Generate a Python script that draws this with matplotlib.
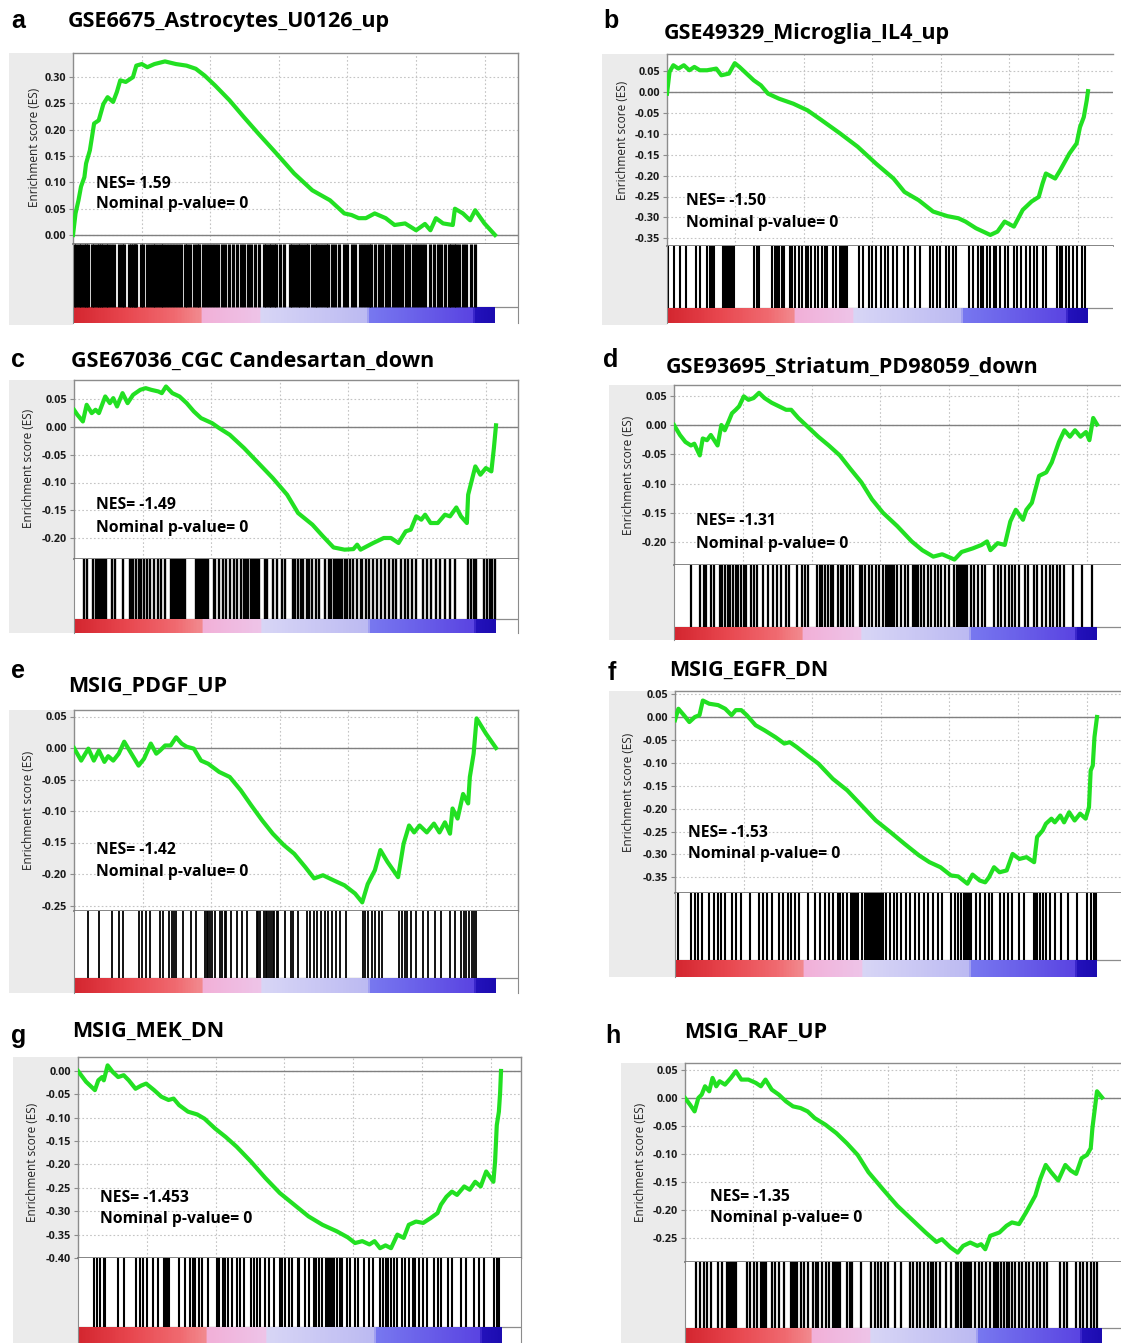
import matplotlib
matplotlib.use("Agg")
import matplotlib.pyplot as plt
from matplotlib.colors import LinearSegmentedColormap
from matplotlib.patches import Rectangle
import numpy as np

plt.rcParams['font.family'] = ['Open Sans', 'DejaVu Sans']
plt.rcParams['axes.unicode_minus'] = False

W, H = 1121, 1343
N_GENES = 12300

# ---------------- data ----------------
letters = ['a', 'b', 'c', 'd', 'e', 'f', 'g', 'h']
titles = ['GSE6675_Astrocytes_U0126_up', 'GSE49329_Microglia_IL4_up',
          'GSE67036_CGC Candesartan_down', 'GSE93695_Striatum_PD98059_down',
          'MSIG_PDGF_UP', 'MSIG_EGFR_DN', 'MSIG_MEK_DN', 'MSIG_RAF_UP']
nes_values = ['1.59', '-1.50', '-1.49', '-1.31', '-1.42', '-1.53', '-1.453', '-1.35']
p_values = ['0', '0', '0', '0', '0', '0', '0', '0']

yticks_a = [0.00, 0.05, 0.10, 0.15, 0.20, 0.25, 0.30]
yticks_b = [0.05, 0.00, -0.05, -0.10, -0.15, -0.20, -0.25, -0.30, -0.35]
yticks_c = [0.05, 0.00, -0.05, -0.10, -0.15, -0.20]
yticks_d = [0.05, 0.00, -0.05, -0.10, -0.15, -0.20]
yticks_e = [0.05, 0.00, -0.05, -0.10, -0.15, -0.20, -0.25]
yticks_f = [0.05, 0.00, -0.05, -0.10, -0.15, -0.20, -0.25, -0.30, -0.35]
yticks_g = [0.00, -0.05, -0.10, -0.15, -0.20, -0.25, -0.30, -0.35, -0.40]
yticks_h = [0.05, 0.00, -0.05, -0.10, -0.15, -0.20, -0.25]

# running enrichment score: (position in ranked list, %), ES
es_a = [(0, 0.0), (0.6, 0.041), (1.3, 0.066), (1.9, 0.092), (2.7, 0.110), (3.1, 0.136),
        (4.0, 0.161), (5.0, 0.212), (6.1, 0.218), (7.2, 0.249), (8.2, 0.262), (9.5, 0.253),
        (10.4, 0.272), (11.2, 0.294), (12.5, 0.291), (14.2, 0.300), (15.0, 0.322),
        (16.3, 0.325), (17.6, 0.319), (19.3, 0.325), (21.8, 0.330), (24.4, 0.325),
        (26.9, 0.322), (29.1, 0.316), (31.2, 0.303), (33.7, 0.284), (37.1, 0.256),
        (40.5, 0.224), (43.9, 0.193), (48.2, 0.155), (52.4, 0.117), (56.7, 0.085),
        (60.9, 0.066), (64.3, 0.041), (66.0, 0.038), (67.7, 0.032), (69.4, 0.032),
        (71.5, 0.041), (74.1, 0.032), (76.2, 0.019), (78.7, 0.022), (81.3, 0.009),
        (83.4, 0.021), (84.7, 0.009), (86.0, 0.032), (87.7, 0.022), (90.0, 0.019),
        (90.5, 0.050), (92.4, 0.041), (94.1, 0.028), (95.3, 0.047), (97.5, 0.022), (100, 0.0)]
es_b = [(0, -0.004), (0.6, 0.048), (1.5, 0.064), (2.7, 0.056), (4.0, 0.064), (5.3, 0.052),
        (6.5, 0.060), (7.8, 0.052), (9.5, 0.052), (11.7, 0.056), (12.9, 0.040), (14.7, 0.044),
        (16.1, 0.069), (17.2, 0.060), (18.9, 0.044), (20.6, 0.028), (22.3, 0.016),
        (24.0, -0.004), (26.6, -0.016), (30.0, -0.028), (33.4, -0.044), (36.8, -0.068),
        (41.1, -0.099), (45.3, -0.131), (49.6, -0.171), (53.8, -0.207), (56.4, -0.239),
        (59.8, -0.259), (63.2, -0.286), (66.6, -0.297), (69.2, -0.302), (70.9, -0.310),
        (73.4, -0.326), (76.8, -0.342), (78.5, -0.334), (80.2, -0.310), (82.4, -0.322),
        (84.5, -0.282), (86.6, -0.262), (88.3, -0.251), (89.2, -0.219), (90.0, -0.195),
        (92.2, -0.207), (93.4, -0.187), (95.6, -0.147), (97.3, -0.123), (98.1, -0.084),
        (99.0, -0.060), (99.7, -0.020), (100, 0.002)]
es_c = [(0, 0.031), (0.8, 0.022), (2.1, 0.010), (3.0, 0.040), (4.2, 0.025), (5.1, 0.031),
        (5.9, 0.025), (7.4, 0.055), (8.5, 0.043), (9.3, 0.052), (10.2, 0.037), (11.5, 0.061),
        (12.7, 0.043), (14.0, 0.058), (15.7, 0.067), (17.0, 0.070), (18.3, 0.067),
        (20.0, 0.064), (20.8, 0.061), (21.8, 0.073), (23.3, 0.061), (25.0, 0.055),
        (26.7, 0.043), (28.4, 0.028), (30.1, 0.016), (32.7, 0.007), (34.4, -0.002),
        (36.9, -0.014), (40.3, -0.038), (43.7, -0.065), (47.1, -0.092), (50.5, -0.122),
        (53.1, -0.155), (56.5, -0.176), (59.0, -0.197), (61.5, -0.217), (64.1, -0.221),
        (66.2, -0.220), (67.1, -0.212), (67.9, -0.221), (70.9, -0.209), (73.4, -0.200),
        (75.1, -0.200), (76.9, -0.209), (78.6, -0.188), (79.8, -0.185), (81.1, -0.161),
        (82.3, -0.167), (83.2, -0.158), (84.5, -0.173), (86.2, -0.173), (87.9, -0.158),
        (89.1, -0.161), (90.6, -0.145), (91.7, -0.161), (93.1, -0.173), (93.4, -0.122),
        (95.1, -0.071), (96.3, -0.086), (97.6, -0.074), (98.9, -0.080), (99.5, -0.038),
        (100, 0.003)]
es_d = [(0, 0.0), (1.4, -0.017), (2.7, -0.029), (4.0, -0.035), (4.8, -0.032), (6.1, -0.052),
        (6.8, -0.023), (7.8, -0.026), (8.7, -0.017), (9.5, -0.026), (10.3, -0.035),
        (11.2, 0.0), (12.0, -0.009), (12.9, 0.006), (13.7, 0.020), (14.6, 0.026),
        (15.4, 0.032), (16.5, 0.049), (17.6, 0.043), (18.8, 0.046), (20.1, 0.055),
        (21.4, 0.046), (23.1, 0.038), (24.8, 0.032), (26.5, 0.026), (27.7, 0.026),
        (29.4, 0.012), (31.6, -0.003), (34.1, -0.020), (36.6, -0.035), (39.2, -0.052),
        (41.7, -0.075), (44.3, -0.098), (46.8, -0.127), (49.4, -0.150), (52.8, -0.173),
        (56.2, -0.199), (58.7, -0.214), (61.3, -0.225), (63.4, -0.221), (64.7, -0.225),
        (66.3, -0.230), (68.0, -0.217), (70.6, -0.211), (72.7, -0.205), (74.0, -0.199),
        (74.8, -0.214), (76.5, -0.202), (78.2, -0.205), (79.5, -0.165), (80.8, -0.145),
        (82.5, -0.162), (83.3, -0.145), (84.6, -0.133), (86.3, -0.087), (88.0, -0.081),
        (89.3, -0.064), (91.0, -0.029), (92.3, -0.009), (93.6, -0.020), (94.8, -0.009),
        (96.1, -0.020), (97.4, -0.012), (98.2, -0.026), (99.1, 0.012), (100, 0.001)]
es_e = [(0, 0.0), (1.7, -0.020), (3.4, -0.001), (4.7, -0.020), (5.9, -0.004), (7.2, -0.022),
        (8.1, -0.013), (9.3, -0.020), (10.6, -0.009), (11.9, 0.010), (13.6, -0.009),
        (15.3, -0.028), (16.6, -0.017), (18.2, 0.007), (19.5, -0.009), (20.4, -0.004),
        (21.6, 0.004), (22.9, 0.004), (24.2, 0.017), (25.5, 0.007), (26.7, 0.002),
        (28.4, -0.001), (30.1, -0.020), (31.8, -0.025), (34.4, -0.038), (36.9, -0.046),
        (39.5, -0.067), (42.0, -0.091), (44.6, -0.115), (47.1, -0.136), (49.7, -0.154),
        (52.2, -0.168), (54.8, -0.189), (56.9, -0.207), (59.0, -0.202), (61.5, -0.210),
        (64.1, -0.218), (66.6, -0.231), (68.3, -0.245), (69.6, -0.216), (71.3, -0.194),
        (72.6, -0.162), (74.3, -0.181), (76.8, -0.205), (78.1, -0.152), (79.4, -0.123),
        (80.6, -0.134), (81.9, -0.123), (83.6, -0.134), (85.3, -0.120), (86.6, -0.134),
        (87.9, -0.118), (89.1, -0.136), (89.7, -0.096), (90.9, -0.112), (92.2, -0.073),
        (93.4, -0.088), (93.8, -0.046), (94.7, -0.009), (95.4, 0.047), (97.6, 0.023), (100, 0.0)]
es_f = [(0, -0.007), (0.8, 0.018), (2.1, 0.004), (3.4, -0.011), (4.7, 0.0), (5.8, 0.004),
        (6.6, 0.036), (8.1, 0.029), (10.2, 0.026), (11.9, 0.018), (13.4, 0.004), (14.4, 0.015),
        (15.7, 0.015), (17.0, 0.004), (19.1, -0.018), (21.2, -0.029), (23.8, -0.044),
        (25.9, -0.058), (27.2, -0.055), (28.9, -0.066), (31.4, -0.084), (34.0, -0.102),
        (37.4, -0.135), (40.8, -0.160), (44.2, -0.193), (47.6, -0.226), (51.0, -0.251),
        (54.4, -0.277), (57.8, -0.302), (60.3, -0.317), (62.9, -0.328), (65.4, -0.346),
        (67.1, -0.348), (69.3, -0.364), (70.5, -0.344), (72.2, -0.357), (73.5, -0.361),
        (74.4, -0.350), (75.6, -0.328), (76.9, -0.339), (78.6, -0.335), (80.0, -0.299),
        (81.6, -0.310), (83.3, -0.306), (85.1, -0.317), (85.8, -0.262), (87.1, -0.248),
        (87.9, -0.233), (89.2, -0.222), (90.0, -0.230), (91.3, -0.215), (92.2, -0.230),
        (93.4, -0.208), (94.7, -0.226), (96.0, -0.211), (97.3, -0.222), (98.1, -0.197),
        (98.5, -0.117), (99.0, -0.106), (99.4, -0.044), (100, 0.0)]
es_g = [(0, 0.0), (1.9, -0.023), (4.0, -0.041), (4.8, -0.020), (5.7, -0.013), (6.1, -0.020),
        (7.0, 0.012), (8.2, -0.002), (9.5, -0.013), (10.8, -0.009), (12.0, -0.020),
        (13.6, -0.038), (15.0, -0.031), (16.1, -0.027), (18.0, -0.041), (19.7, -0.055),
        (21.4, -0.062), (22.6, -0.059), (23.9, -0.073), (26.0, -0.087), (28.2, -0.093),
        (29.9, -0.102), (32.4, -0.123), (34.9, -0.141), (37.5, -0.162), (40.9, -0.194),
        (44.3, -0.229), (47.7, -0.261), (51.1, -0.286), (54.5, -0.311), (57.8, -0.329),
        (61.2, -0.343), (63.8, -0.356), (65.5, -0.368), (67.2, -0.364), (68.9, -0.371),
        (70.1, -0.364), (71.4, -0.379), (72.7, -0.373), (74.0, -0.379), (75.5, -0.350),
        (77.0, -0.357), (78.2, -0.329), (79.9, -0.322), (81.6, -0.325), (83.3, -0.315),
        (85.0, -0.304), (85.8, -0.286), (87.1, -0.269), (88.4, -0.258), (89.6, -0.265),
        (91.3, -0.247), (92.6, -0.254), (93.9, -0.237), (95.2, -0.247), (96.5, -0.215),
        (98.2, -0.237), (98.6, -0.194), (99.0, -0.116), (99.5, -0.087), (99.8, -0.045),
        (100, 0.0)]
es_h = [(0, 0.0), (1.2, -0.012), (2.3, -0.024), (3.2, 0.0), (4.0, 0.006), (4.8, 0.021),
        (5.8, 0.012), (6.6, 0.036), (7.5, 0.021), (8.3, 0.030), (9.6, 0.024), (11.0, 0.036),
        (12.2, 0.048), (13.5, 0.033), (15.2, 0.033), (17.0, 0.027), (18.2, 0.021),
        (19.3, 0.033), (20.8, 0.015), (22.5, 0.006), (24.2, -0.006), (25.9, -0.015),
        (27.7, -0.018), (29.4, -0.024), (31.1, -0.036), (33.7, -0.048), (36.3, -0.063),
        (38.8, -0.081), (41.4, -0.102), (44.0, -0.133), (47.4, -0.163), (50.9, -0.193),
        (54.3, -0.217), (57.7, -0.241), (60.3, -0.258), (61.6, -0.253), (63.7, -0.268),
        (65.4, -0.277), (66.7, -0.265), (68.4, -0.259), (70.1, -0.265), (71.0, -0.262),
        (72.0, -0.271), (73.2, -0.247), (75.4, -0.241), (77.1, -0.229), (78.4, -0.223),
        (80.1, -0.226), (81.8, -0.205), (84.0, -0.175), (85.2, -0.145), (86.5, -0.120),
        (87.8, -0.133), (89.5, -0.148), (91.2, -0.120), (92.5, -0.130), (93.8, -0.136),
        (95.1, -0.108), (96.4, -0.102), (97.3, -0.090), (97.7, -0.054), (98.1, -0.030),
        (98.8, 0.012), (100, 0.001)]

# gene-set hit positions (% of ranked list)
hits_a = [0.2, 0.8, 1.4, 2.0, 2.5, 3.0, 3.5, 4.4, 5.0, 5.7, 6.2, 6.7, 7.2, 7.8, 8.2, 9.1, 9.8,
          10.8, 11.5, 12.1, 13.3, 13.8, 14.2, 14.6, 15.0, 16.1, 16.7, 17.6, 18.3, 18.9, 19.5,
          20.1, 20.8, 21.4, 22.0, 22.7, 23.5, 24.1, 24.8, 25.7, 26.5, 27.1, 27.8, 28.6, 29.3,
          29.9, 30.8, 31.6, 32.3, 32.9, 33.7, 34.4, 35.3, 36.1, 37.0, 37.8, 38.8, 39.7, 40.5,
          41.4, 42.2, 43.2, 44.1, 45.2, 45.8, 46.5, 47.0, 47.6, 48.2, 49.0, 49.9, 51.4, 52.0,
          52.6, 53.3, 53.9, 54.5, 55.1, 55.8, 56.7, 57.3, 57.9, 58.5, 59.2, 59.9, 60.5, 61.3,
          62.2, 63.0, 64.1, 65.0, 66.0, 66.9, 68.1, 68.7, 69.4, 70.1, 70.7, 71.5, 72.4, 73.2,
          74.1, 74.9, 75.8, 76.6, 77.2, 77.9, 78.8, 79.6, 80.5, 81.3, 82.0, 82.8, 83.4, 84.7,
          85.6, 86.4, 87.3, 88.1, 89.0, 89.6, 90.2, 90.8, 91.5, 92.4, 93.2, 94.2, 95.3]
hits_b = [0.2, 1.7, 3.2, 4.4, 7.0, 7.8, 9.5, 10.2, 10.8, 11.2, 13.4, 13.8, 14.2, 14.7, 15.1,
          15.5, 15.9, 20.6, 21.3, 21.9, 24.9, 25.7, 26.1, 26.7, 27.4, 27.9, 29.1, 29.8, 30.4,
          31.3, 32.1, 33.0, 33.4, 34.2, 35.1, 35.9, 36.8, 37.6, 38.1, 39.4, 40.2, 41.1, 41.5,
          41.9, 42.3, 42.8, 45.7, 46.6, 47.9, 48.7, 49.6, 50.9, 51.7, 52.6, 53.8, 54.7, 56.4,
          57.2, 58.9, 60.2, 62.4, 63.2, 64.1, 64.9, 66.2, 67.0, 67.9, 68.7, 71.7, 72.6, 73.9,
          74.7, 75.1, 76.0, 76.8, 77.7, 78.1, 79.0, 80.2, 81.1, 82.4, 83.2, 84.1, 85.3, 86.2,
          87.1, 87.9, 89.2, 90.0, 92.6, 93.4, 93.9, 94.7, 95.6, 96.4, 97.3, 98.6, 99.4]
hits_c = [2.3, 3.1, 4.5, 5.3, 5.8, 6.2, 6.6, 7.0, 7.5, 8.9, 9.8, 11.5, 13.2, 13.6, 14.0, 14.7,
          15.3, 15.9, 16.6, 17.4, 18.1, 18.9, 19.9, 20.6, 21.6, 22.9, 23.3, 23.8, 24.2, 24.6,
          25.0, 25.5, 25.9, 26.3, 28.9, 29.3, 29.7, 30.1, 30.6, 31.0, 31.4, 31.8, 33.1, 33.5,
          34.4, 35.2, 36.1, 36.9, 37.8, 38.6, 39.5, 40.3, 40.8, 41.3, 41.9, 42.4, 42.9, 43.4,
          43.9, 45.2, 45.8, 47.1, 48.0, 49.2, 50.1, 51.8, 52.4, 53.1, 53.7, 54.3, 55.2, 55.6,
          56.5, 57.3, 58.1, 59.4, 60.5, 61.0, 61.5, 62.1, 62.6, 63.1, 63.6, 64.1, 64.8, 65.4,
          66.2, 67.1, 67.9, 68.3, 69.2, 70.0, 70.9, 71.7, 72.8, 73.6, 74.7, 75.6, 76.4, 77.5,
          78.4, 79.2, 80.1, 81.1, 82.6, 83.6, 84.5, 85.7, 86.8, 87.9, 89.1, 90.2, 93.4, 94.0,
          94.7, 95.3, 97.2, 97.9, 98.5, 99.1, 99.7]
hits_d = [4.0, 6.1, 7.0, 7.6, 8.7, 9.5, 10.8, 11.4, 12.0, 12.7, 13.3, 13.9, 14.6, 15.2, 15.9,
          16.5, 17.1, 18.2, 18.8, 19.7, 21.0, 22.2, 23.5, 24.3, 25.2, 26.5, 27.3, 29.0, 30.3,
          31.0, 31.6, 33.9, 34.5, 35.1, 35.8, 36.5, 37.1, 37.7, 38.8, 39.4, 40.0, 40.9, 41.6,
          42.2, 43.9, 44.4, 45.1, 46.1, 46.8, 47.7, 48.5, 49.4, 50.2, 50.6, 51.1, 51.5, 51.9,
          52.8, 53.6, 54.5, 55.3, 56.6, 57.0, 57.4, 57.8, 58.3, 59.1, 60.0, 60.8, 61.7, 62.5,
          63.1, 64.0, 65.1, 66.3, 66.8, 67.2, 67.6, 68.0, 68.4, 68.9, 69.3, 70.1, 71.0, 71.8,
          72.7, 73.5, 75.7, 76.5, 77.4, 78.2, 79.1, 79.9, 80.7, 81.6, 82.9, 83.7, 85.0, 85.8,
          87.1, 88.0, 88.8, 89.7, 90.5, 91.3, 92.2, 94.3, 96.4, 98.7]
hits_e = [3.4, 5.9, 8.9, 10.6, 11.5, 15.5, 16.1, 17.0, 18.1, 20.4, 21.2, 22.5, 23.2, 23.8,
          24.2, 25.9, 27.8, 28.9, 31.0, 31.4, 31.8, 32.3, 32.7, 33.4, 34.5, 35.1, 35.7, 36.1,
          37.1, 38.6, 39.9, 41.0, 43.3, 43.5, 44.1, 45.0, 45.4, 45.8, 46.3, 46.7, 47.1, 47.5,
          48.0, 48.4, 50.1, 51.4, 51.8, 53.1, 55.2, 56.0, 56.9, 57.7, 58.6, 59.4, 60.3, 61.1,
          62.0, 63.1, 64.5, 68.5, 69.0, 69.6, 70.5, 71.3, 72.2, 73.0, 77.0, 77.7, 78.4, 79.0,
          79.8, 81.1, 82.6, 83.8, 85.5, 87.0, 89.1, 90.4, 91.7, 92.3, 93.0, 93.6, 94.2, 94.8, 95.3]
hits_f = [0.8, 3.8, 4.7, 5.5, 6.4, 8.1, 9.2, 10.2, 11.0, 11.9, 13.6, 14.4, 15.7, 17.8, 20.0,
          20.8, 21.7, 22.9, 24.6, 25.5, 26.8, 27.6, 28.5, 29.3, 31.4, 33.1, 34.4, 35.5, 36.5,
          37.4, 38.7, 39.1, 39.9, 40.8, 41.6, 42.1, 42.5, 42.9, 43.3, 44.2, 45.0, 45.5, 45.9,
          46.3, 46.7, 47.2, 47.6, 48.0, 48.4, 48.9, 49.3, 50.1, 51.0, 51.8, 52.7, 53.5, 54.8,
          55.6, 56.9, 57.8, 59.0, 59.9, 61.2, 62.4, 63.3, 65.4, 66.3, 67.1, 67.8, 68.4, 68.8,
          69.2, 69.7, 70.1, 71.4, 72.2, 73.5, 74.3, 75.2, 77.1, 78.0, 78.8, 79.9, 81.6, 82.8,
          85.0, 85.4, 85.8, 86.5, 87.1, 87.9, 88.8, 90.1, 91.4, 93.1, 95.2, 97.7, 98.6, 99.3, 99.8]
hits_g = [3.7, 4.6, 5.3, 6.1, 6.5, 9.5, 10.8, 13.7, 14.6, 15.4, 16.3, 17.8, 18.8, 20.4, 20.7,
          21.0, 21.4, 23.9, 25.2, 26.5, 27.1, 27.7, 28.6, 29.4, 30.7, 32.8, 33.4, 34.3, 34.8,
          35.4, 36.5, 37.5, 38.2, 39.2, 40.9, 41.7, 42.2, 43.0, 44.1, 45.1, 46.4, 47.7, 48.3,
          48.9, 49.8, 50.6, 51.9, 52.3, 53.6, 54.5, 55.7, 56.3, 57.0, 57.8, 58.7, 59.1, 59.5,
          60.0, 60.6, 61.2, 61.9, 62.5, 63.6, 64.2, 65.5, 66.3, 67.6, 68.9, 69.7, 71.4, 72.1,
          72.7, 73.3, 74.0, 74.8, 75.5, 76.5, 77.4, 78.2, 79.1, 79.7, 80.6, 81.6, 82.4, 84.1,
          85.0, 85.8, 87.5, 88.4, 90.5, 91.8, 93.5, 94.7, 96.0, 98.4, 99.0, 99.6]
hits_h = [2.6, 3.6, 4.5, 5.3, 6.2, 7.9, 8.8, 10.1, 10.5, 10.9, 11.3, 11.8, 12.2, 14.8, 15.6,
          16.5, 17.2, 18.2, 18.6, 19.1, 19.5, 20.8, 21.6, 22.5, 23.8, 25.5, 25.9, 26.4, 26.8,
          27.8, 28.5, 29.4, 30.7, 31.3, 32.0, 32.8, 33.7, 34.5, 35.4, 35.8, 36.3, 36.7, 37.1,
          38.8, 39.5, 40.1, 42.3, 44.7, 45.5, 46.4, 47.0, 47.9, 48.7, 50.4, 51.7, 53.9, 54.7,
          55.6, 56.4, 57.3, 58.2, 59.0, 59.5, 60.3, 61.2, 62.5, 63.7, 65.0, 65.5, 66.2, 66.8,
          67.2, 67.6, 68.0, 68.5, 69.6, 70.4, 71.3, 72.3, 73.2, 74.1, 74.5, 75.1, 75.8, 76.5,
          77.1, 77.7, 78.4, 79.2, 80.1, 80.9, 81.8, 82.6, 83.5, 84.4, 85.2, 86.1, 86.9, 89.9,
          90.8, 91.6, 93.8, 94.7, 95.5, 96.4, 97.3, 98.1, 98.8]

# ---------------- layout (figure pixels) ----------------
layout = [
    dict(gx=9, gt=53, gb=325, pl=73, pr=518, ce=495, top=53, esb=244, hb=307, cbb=323, y0=235, ppu=26.3,
         let=(11, 28), tit=(68, 27), nes=(96, 188, 208), yl=(34, 147), hlw=2.3),
    dict(gx=602, gt=54, gb=325, pl=667, pr=1113, ce=1088, top=54, esb=246, hb=308, cbb=323, y0=92, ppu=20.9,
         let=(603, 28), tit=(664, 39), nes=(686, 205, 227), yl=(622, 140), hlw=1.5),
    dict(gx=9, gt=380, gb=633, pl=74, pr=518, ce=496, top=380, esb=559, hb=619, cbb=633, y0=427, ppu=27.75,
         let=(11, 367), tit=(71, 367), nes=(96, 509, 532), yl=(29, 468), hlw=1.7),
    dict(gx=609, gt=385, gb=640, pl=674, pr=1121, ce=1097, top=385, esb=565, hb=627, cbb=640, y0=425, ppu=29.25,
         let=(603, 367), tit=(666, 373), nes=(696, 525, 548), yl=(628, 475), hlw=1.6),
    dict(gx=9, gt=710, gb=993, pl=74, pr=518, ce=496, top=710, esb=911, hb=978, cbb=993, y0=748, ppu=31.5,
         let=(11, 678), tit=(68, 692), nes=(96, 854, 876), yl=(29, 810), hlw=1.3),
    dict(gx=609, gt=691, gb=977, pl=675, pr=1121, ce=1097, top=691, esb=893, hb=960, cbb=977, y0=717, ppu=22.9,
         let=(608, 680), tit=(669, 676), nes=(688, 837, 858), yl=(628, 792), hlw=1.5),
    dict(gx=13, gt=1057, gb=1343, pl=78, pr=521, ce=501, top=1057, esb=1258, hb=1327, cbb=1343, y0=1071, ppu=23.4,
         let=(11, 1043), tit=(72, 1037), nes=(100, 1202, 1223), yl=(32, 1162), hlw=1.5),
    dict(gx=621, gt=1063, gb=1343, pl=685, pr=1121, ce=1102, top=1063, esb=1262, hb=1328, cbb=1343, y0=1098, ppu=27.9,
         let=(605, 1043), tit=(684, 1038), nes=(710, 1201, 1222), yl=(640, 1162), hlw=1.6),
]

es_all = [es_a, es_b, es_c, es_d, es_e, es_f, es_g, es_h]
hits_all = [hits_a, hits_b, hits_c, hits_d, hits_e, hits_f, hits_g, hits_h]
yticks_all = [yticks_a, yticks_b, yticks_c, yticks_d, yticks_e, yticks_f, yticks_g, yticks_h]

cbar_cmap = LinearSegmentedColormap.from_list('gsea', [
    (0.00, '#d42630'), (0.12, '#e8464e'), (0.24, '#f06a70'), (0.30, '#f28a8e'),
    (0.305, '#f2b0d8'), (0.44, '#eec4e8'), (0.445, '#d8d6f6'), (0.70, '#bcbaf2'),
    (0.705, '#7878f0'), (0.95, '#5a44e2'), (0.955, '#2412bc'), (1.00, '#1c0cb0')])

GREEN = '#22e022'
GRID = '#c4c4c4'
EDGE = '#8c8c8c'

fig = plt.figure(figsize=(W / 100, H / 100), dpi=100)
fig.patch.set_facecolor('white')


def fx(x):
    return x / W


def fy(y):
    return 1 - y / H


for i in range(8):
    L = layout[i]
    pl, pr, ce = L['pl'], L['pr'], L['ce']
    right_col = pr > 1100
    fig.patches.append(Rectangle((fx(L['gx']), fy(L['gb'])), (pl - L['gx']) / W,
                                 (L['gb'] - L['gt']) / H, transform=fig.transFigure,
                                 facecolor='#ebebeb', edgecolor='none', zorder=-5))
    xmax = N_GENES * (pr - pl) / (ce - pl)
    ymin = -(L['esb'] - L['y0']) / L['ppu'] * 0.05
    ymax = (L['y0'] - L['top']) / L['ppu'] * 0.05

    # ---- ES axes ----
    ax = fig.add_axes([fx(pl), fy(L['esb']), (pr - pl) / W, (L['esb'] - L['top']) / H])
    pts = es_all[i]
    xs = [p[0] / 100 * N_GENES for p in pts]
    ys = [p[1] for p in pts]
    ax.plot(xs, ys, color=GREEN, lw=3.0, solid_joinstyle='round', zorder=3)
    ax.axhline(0, color='#808080', lw=1.0, zorder=2)
    ax.set_xlim(0, xmax)
    ax.set_ylim(ymin, ymax)
    ax.set_xticks(list(range(2000, 12001, 2000)))
    ax.set_xticklabels([])
    ax.tick_params(axis='x', length=0)
    ax.set_yticks(yticks_all[i])
    ax.set_yticklabels(['%.2f' % v for v in yticks_all[i]])
    ax.tick_params(axis='y', length=3, width=0.8, color=EDGE, labelsize=7.8,
                   labelcolor='#1a1a1a', pad=2)
    for lab in ax.get_yticklabels():
        lab.set_fontweight('bold')
    ax.grid(True, linestyle=(0, (1.5, 2)), color=GRID, lw=0.8)
    for s in ['left', 'top', 'bottom', 'right']:
        ax.spines[s].set_color(EDGE)
        ax.spines[s].set_linewidth(1.0)
    ax.spines['bottom'].set_color('#707070')
    ax.spines['bottom'].set_linewidth(1.2)
    if right_col:
        ax.spines['right'].set_visible(False)
    ax.set_facecolor('white')

    # ---- hit bar + colour bar axes ----
    hx = fig.add_axes([fx(pl), fy(L['cbb']), (pr - pl) / W, (L['cbb'] - L['esb']) / H])
    cb_frac = (L['cbb'] - L['hb']) / (L['cbb'] - L['esb'])
    hx.imshow(np.linspace(0, 1, 400).reshape(1, -1), cmap=cbar_cmap, aspect='auto',
              extent=(0, N_GENES, 0, cb_frac), interpolation='nearest', zorder=1)
    hx.vlines([h / 100 * N_GENES for h in hits_all[i]], cb_frac, 1, color='black',
              lw=L['hlw'], zorder=2)
    hx.axhline(cb_frac, color=EDGE, lw=0.9, zorder=0)
    hx.set_xlim(0, xmax)
    hx.set_ylim(0, 1)
    hx.set_xticks([])
    hx.set_yticks([])
    for s in ['top', 'bottom']:
        hx.spines[s].set_visible(False)
    hx.spines['left'].set_color(EDGE)
    hx.spines['right'].set_color(EDGE)
    if right_col:
        hx.spines['right'].set_visible(False)

    # ---- texts ----
    fig.text(fx(L['let'][0]), fy(L['let'][1]), letters[i], ha='left', va='baseline',
             fontsize=18, fontweight='bold', family=['Liberation Sans', 'DejaVu Sans'])
    fig.text(fx(L['tit'][0]), fy(L['tit'][1]), titles[i], ha='left', va='baseline',
             fontsize=15.5, fontweight='bold')
    fig.text(fx(L['nes'][0]), fy(L['nes'][1]), 'NES= ' + nes_values[i], ha='left',
             va='baseline', fontsize=11.3, fontweight='bold')
    fig.text(fx(L['nes'][0]), fy(L['nes'][2]), 'Nominal p-value= ' + p_values[i], ha='left',
             va='baseline', fontsize=11.3, fontweight='bold')
    fig.text(fx(L['yl'][0]), fy(L['yl'][1]), 'Enrichment score (ES)', rotation=90,
             ha='center', va='center', fontsize=8.5, color='#222222')

fig.savefig('out.png', dpi=100, facecolor='white')
